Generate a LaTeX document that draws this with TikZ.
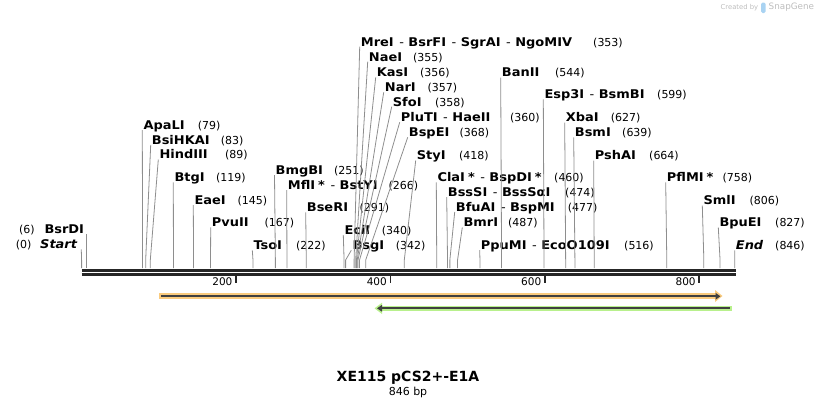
\documentclass[tikz,border=0pt]{standalone}
\usepackage{fontspec}
\setmainfont{DejaVu Sans}
\newfontfamily\enzfont[FakeStretch=1.08]{DejaVu Sans}
\usetikzlibrary{arrows.meta}

\definecolor{rulergray}{HTML}{262626}
\definecolor{leadgray}{HTML}{8E8E8E}
\definecolor{featorange}{HTML}{FACB7E}
\definecolor{featgreen}{HTML}{B8F08C}
\definecolor{featline}{HTML}{404040}
\definecolor{markgray}{HTML}{BDBDBD}
\definecolor{markblue}{HTML}{A9D3F2}

\newcommand{\sepr}{\hspace{5.5pt}{\mdseries -}\hspace{4.5pt}}
\newcommand{\meth}{\kern3pt*}

\tikzset{
  enz/.style={anchor=west, inner sep=0pt, text height=8.75pt, text depth=0pt,
    font=\enzfont\fontsize{12}{14}\selectfont\bfseries},
  bpnum/.style={anchor=west, inner sep=0pt, text height=8.75pt, text depth=0pt,
    font=\fontsize{11}{13}\selectfont},
  leader/.style={draw=leadgray, line width=0.8pt},
  ruler/.style={draw=rulergray, line width=2.7pt},
  tickmark/.style={draw=rulergray, line width=1.6pt},
  ticklab/.style={anchor=east, inner sep=0pt, font=\fontsize{10.5}{12}\selectfont},
}

\begin{document}
\begin{tikzpicture}[x=1pt,y=-1pt]
  \useasboundingbox (0,0) rectangle (818,408);

  % sequence ruler
  \draw[ruler] (81.6,270.3) -- (735.5,270.3);
  \draw[ruler] (81.6,274.3) -- (735.5,274.3);
  \foreach \t in {200,400,600,800}{
    \draw[tickmark] ({81.6+0.772*\t},275.5) -- ++(0,7.5);
    \node[ticklab] (t\t) at ({81.6+0.772*\t-3.4},282) {\t};
  }

  % cut sites, labels to the right
  \foreach \s/\lx/\ly/\nm/\nx in {
      79/143.3/125/{ApaLI}/197.7,
      83/151.7/140/{BsiHKAI}/220.7,
      89/159.3/154.5/{HindIII}/225,
      119/174.3/177.3/{BtgI}/216,
      145/194.3/200/{EaeI}/237.3,
      167/211.7/222.3/{PvuII}/264.5,
      222/253.3/245.3/{TsoI}/296,
      251/275.5/170/{BmgBI}/334,
      266/287.7/185/{MflI\meth\sepr BstYI}/388.3,
      291/306.7/207.3/{BseRI}/359.3,
      340/344.3/230/{EciI}/381.7,
      342/352.3/245.3/{BsgI}/395.7,
      353/360.7/41.7/{MreI\sepr BsrFI\sepr SgrAI\sepr NgoMIV}/593,
      355/368.7/56.7/{NaeI}/413,
      356/376.7/72.3/{KasI}/420,
      357/384.7/87.3/{NarI}/427.3,
      358/392.7/101.7/{SfoI}/435,
      360/400.7/117.3/{PluTI\sepr HaeII}/510,
      368/408.7/132.3/{BspEI}/459.3,
      418/416.7/155.5/{StyI}/459,
      460/437.3/177.3/{ClaI\meth\sepr BspDI\meth}/554,
      474/447.7/192/{BssSI\sepr BssSαI}/565,
      477/455.7/207/{BfuAI\sepr BspMI}/567.7,
      487/463.3/222.3/{BmrI}/508,
      516/480.7/245/{PpuMI\sepr EcoO109I}/624,
      544/501.7/72.5/{BanII}/555,
      599/544.3/94.3/{Esp3I\sepr BsmBI}/657,
      627/565.7/117.5/{XbaI}/610.7,
      639/574.7/132.3/{BsmI}/622,
      664/594.7/155.5/{PshAI}/649,
      758/666.7/177.3/{PflMI\meth}/722.3,
      806/703.3/200.5/{SmlI}/749.3,
      827/719.3/222.5/{BpuEI}/775,
      846/735.7/245.3/{\itshape End}/775}{
    \coordinate (s\s) at ({81.6+0.772*\s},268);
    \node[enz] (l\s) at (\lx,\ly) {\nm};
    \node[bpnum] (n\s) at (\nx,\ly) {(\s)};
    \draw[leader] (s\s) -- ++(0,-8) -- ([shift={(-1,5)}]l\s.west);
  }

  % cut sites, labels to the left
  \coordinate (s0) at (81.6,268);
  \node[enz] (l0) at (40,244.3) {\itshape Start};
  \node[bpnum] (n0) at (15.7,244.3) {(0)};
  \draw[leader] (s0) -- ++(0,-8) -- ([shift={(4,5)}]l0.east);
  \coordinate (s6) at ({81.6+0.772*6},268);
  \node[enz] (l6) at (44.3,229.3) {BsrDI};
  \node[bpnum] (n6) at (19,229.3) {(6)};
  \draw[leader] (s6) -- (s6 |- l6.south);

  % features
  \fill[featorange] (159,293.3) rectangle (715.5,298.7);
  \fill[featorange] (715,290) -- (722.5,296) -- (715,302) -- cycle;
  \draw[featline, line width=2pt, -{Triangle[length=5pt,width=6.5pt]}] (161,296.3) -- (720.5,296.3);
  \fill[featgreen] (381,305.7) rectangle (731.7,311);
  \fill[featgreen] (382,302.7) -- (374.5,308.3) -- (382,314) -- cycle;
  \draw[featline, line width=2pt, -{Triangle[length=5pt,width=6.5pt]}] (729.5,308.3) -- (377,308.3);

  % title
  \node[font=\fontsize{14}{16}\selectfont\bfseries] (title) at (408,378) {XE115 pCS2+-E1A};
  \node[font=\fontsize{11}{13}\selectfont] (size) at (408,392) {846 bp};

  % watermark
  \node[anchor=west, inner sep=0pt, text=markgray, font=\fontsize{6.8}{8}\selectfont] (credit) at (720.5,7.5) {Created by};
  \fill[markblue, rounded corners=1.5pt] (761,2.5) rectangle (765.5,13);
  \node[anchor=west, inner sep=0pt, text=markgray, font=\fontsize{8.8}{10}\selectfont] (brand) at (768.5,7.5) {SnapGene};
\end{tikzpicture}
\end{document}
